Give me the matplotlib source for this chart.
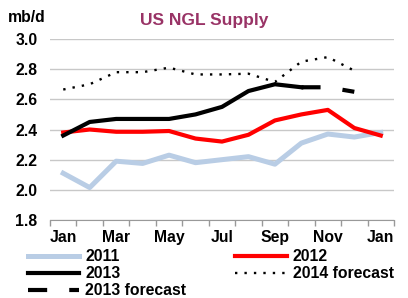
import matplotlib
matplotlib.use("Agg")
import matplotlib.pyplot as plt

plt.rcParams.update({
    "font.family": ["Liberation Sans", "DejaVu Sans"],
    "font.weight": "bold",
})

months = ["Jan", "Feb", "Mar", "Apr", "May", "Jun", "Jul",
          "Aug", "Sep", "Oct", "Nov", "Dec", "Jan"]
s2011 = [2.11, 2.015, 2.19, 2.175, 2.23, 2.18, 2.20, 2.22, 2.17, 2.31, 2.37, 2.35, 2.38]
s2012 = [2.38, 2.40, 2.385, 2.385, 2.39, 2.34, 2.32, 2.365, 2.46, 2.50, 2.53, 2.41, 2.36]
s2013 = [2.36, 2.45, 2.47, 2.47, 2.47, 2.50, 2.55, 2.655, 2.70, 2.68]
f2013 = [2.68, 2.68, 2.65]          # Oct - Dec
f2014 = [2.665, 2.70, 2.78, 2.78, 2.81, 2.765, 2.765, 2.77, 2.715, 2.85, 2.88, 2.79]

x = list(range(len(months)))
fs = 11.3

fig = plt.figure(figsize=(4.08, 2.98), dpi=100)
ax = fig.add_axes([50/408, 1-220/298, 344/408, 181/298])

ax.plot(x, s2011, color="#b9cde5", lw=3.6, label="2011", zorder=2)
ax.plot(x, s2012, color="#ff0000", lw=3.0, label="2012", zorder=3)
ax.plot(x[:len(s2013)], s2013, color="black", lw=3.0, label="2013", zorder=4)
ax.plot(x[9:12], f2013, color="black", lw=3.0, linestyle=(0, (4.6, 5.3)),
        label="2013 forecast", zorder=4)
ax.plot(x[:len(f2014)], f2014, color="black", lw=1.7, linestyle=(0, (1, 3.0)),
        label="2014 forecast", zorder=4)

ax.set_xlim(-0.5, 12.5)
ax.set_ylim(1.8, 3.0)
ax.set_yticks([1.8, 2.0, 2.2, 2.4, 2.6, 2.8, 3.0])
ax.set_yticklabels(["%.1f" % v for v in ax.get_yticks()], fontsize=fs, fontweight="bold")
ax.set_xticks(x[::2])
ax.set_xticklabels(months[::2], fontsize=fs, fontweight="bold")
ax.set_xticks([i - 0.5 for i in range(14)], minor=True)
ax.tick_params(axis="x", which="major", length=0, pad=7)
ax.tick_params(axis="x", which="minor", length=4, color="#999999", width=1)
ax.tick_params(axis="y", length=0, pad=9)

ax.grid(axis="y", color="#c8c8c8", lw=1)
ax.set_axisbelow(True)
for side in ["left", "right", "top"]:
    ax.spines[side].set_visible(False)
ax.spines["bottom"].set_color("#999999")

fig.text(8/408, 1-18/298, "mb/d", fontsize=fs, fontweight="bold", va="center")
fig.text(204/408, 1-20/298, "US NGL Supply", fontsize=12.5, fontweight="bold",
         color="#993366", ha="center", va="center")

h, l = ax.get_legend_handles_labels()
order = [0, 2, 3, 1, 4]
fig.legend([h[i] for i in order], [l[i] for i in order], ncol=2,
           loc="upper left", bbox_to_anchor=(28/408, 1-249/298),
           frameon=False, fontsize=fs, handlelength=3.28, handletextpad=0.38,
           columnspacing=3.1, labelspacing=0.14, borderpad=0, borderaxespad=0)

fig.savefig("out.png", dpi=100)
